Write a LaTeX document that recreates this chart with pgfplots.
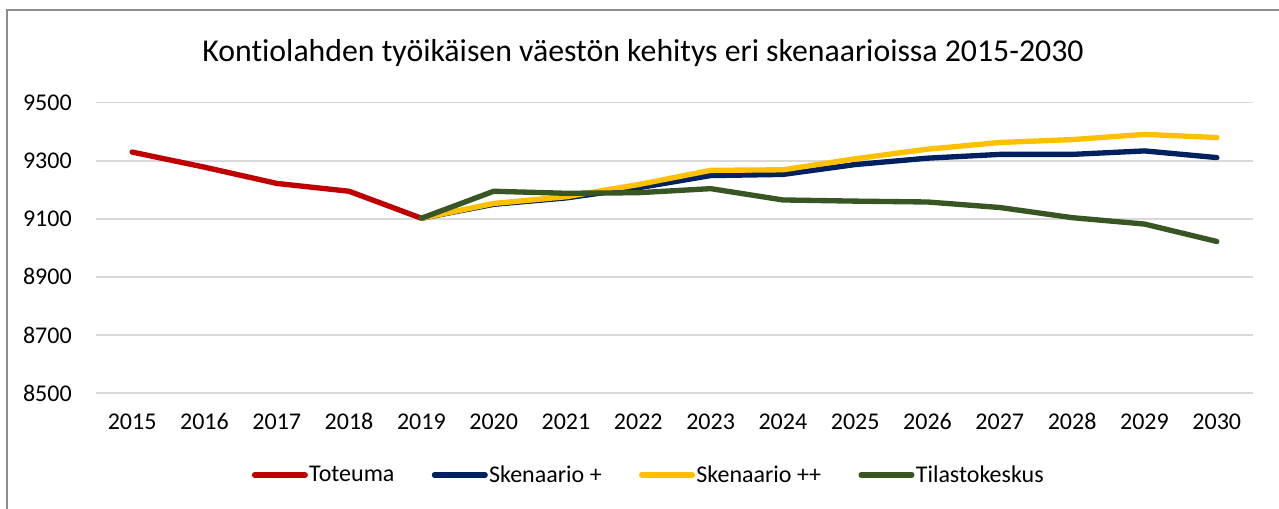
\documentclass[border=0pt]{standalone}
\usepackage{fontspec}
\setmainfont{Carlito}[Ligatures=NoCommon]
\usepackage{pgfplots}
\pgfplotsset{compat=1.18}
\definecolor{cRed}{HTML}{C00000}
\definecolor{cNavy}{HTML}{002060}
\definecolor{cYel}{HTML}{FFC000}
\definecolor{cGrn}{HTML}{375623}
\definecolor{cGrid}{HTML}{D9D9D9}
\begin{document}
\begin{tikzpicture}
\begin{scope}[x=0.75pt,y=0.75pt]
\path[use as bounding box] (0,0) rectangle (1279,509);
\draw[line width=0.8pt, color=black!45] (7,-30) -- (7,499) -- (1300,499);
\node[anchor=base, inner sep=0pt, font=\fontsize{23.85}{28}\selectfont] at (643,447.3) {Kontiolahden työikäisen väestön kehitys eri skenaarioissa 2015-2030};
\end{scope}
\begin{axis}[
  at={(72pt,87pt)}, anchor=south west,
  scale only axis, width=867.75pt, height=217.7pt,
  xmin=2014.5, xmax=2030.5, ymin=8500, ymax=9500,
  xtick={2015,...,2030}, ytick={8500,8700,...,9500},
  /pgf/number format/assume math mode=true,
  /pgf/number format/set thousands separator={},
  axis line style={draw=none},
  major tick length=0pt,
  ymajorgrids, grid style={cGrid, line width=1.1pt},
  tick label style={font=\fontsize{18}{22}\selectfont, inner sep=0pt},
  yticklabel style={anchor=east, xshift=-18pt},
  xticklabel style={anchor=north, yshift=-15.2pt},
  clip=false,
  legend columns=4,
  legend cell align=left,
  legend style={at={(0.4775,-0.2825)}, anchor=center, draw=none, fill=none,
    font=\fontsize{18}{22}\selectfont,
    nodes={inner xsep=1pt, inner ysep=2pt},
    /tikz/every even column/.append style={column sep=27pt}},
  legend image code/.code={\draw[#1, line cap=round] (2pt,0pt) -- (40pt,0pt);},
  every axis plot/.append style={line width=4pt, line join=round, line cap=round},
]
\addplot[cRed] coordinates {(2015,9330) (2016,9278) (2017,9222) (2018,9195) (2019,9102)};
\addlegendentry{Toteuma}
\addplot[cNavy] coordinates {(2019,9102) (2020,9150) (2021,9172) (2022,9207) (2023,9249) (2024,9253) (2025,9287) (2026,9309) (2027,9322) (2028,9322) (2029,9334) (2030,9311)};
\addlegendentry{Skenaario +}
\addplot[cYel] coordinates {(2019,9102) (2020,9153) (2021,9176) (2022,9218) (2023,9267) (2024,9269) (2025,9307) (2026,9340) (2027,9363) (2028,9373) (2029,9391) (2030,9380)};
\addlegendentry{Skenaario ++}
\addplot[cGrn] coordinates {(2019,9102) (2020,9195) (2021,9188) (2022,9190) (2023,9204) (2024,9165) (2025,9161) (2026,9158) (2027,9139) (2028,9104) (2029,9082) (2030,9022)};
\addlegendentry{Tilastokeskus}
\end{axis}
\end{tikzpicture}
\end{document}
